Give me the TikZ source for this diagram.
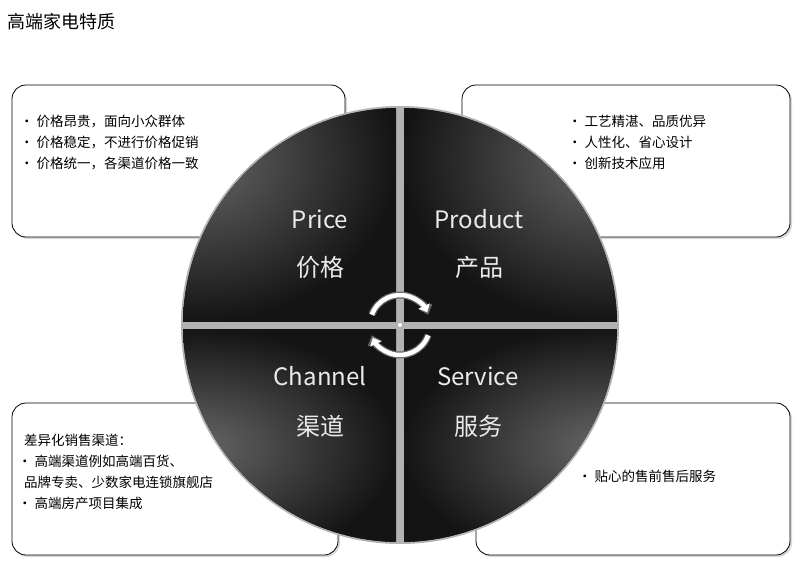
\documentclass[tikz,border=0pt]{standalone}
\usepackage{fontspec}
\setmainfont{Noto Sans CJK SC}
\usetikzlibrary{arrows.meta,shadows}
\begin{document}
\begin{tikzpicture}[x=1pt,y=-1pt,
  infobox/.style={draw=black,line width=0.8pt,rounded corners=14pt,fill=white,drop shadow={shadow xshift=2pt,shadow yshift=-2pt,opacity=0.3}},
  bl/.style={font=\fontsize{13.5}{21}\selectfont,align=left,anchor=north west,inner sep=0pt},
  big/.style={font=\fontsize{24}{27}\selectfont,text=white!92!black},
  quad/.style={inner color=black!60,outer color=black!92}]
\useasboundingbox (0,0) rectangle (800,566);
\node[anchor=west,font=\fontsize{18}{20}\selectfont] (title) at (4,22) {高端家电特质};
\draw[infobox] (12,85) rectangle (345,237);
\draw[infobox] (462,85) rectangle (790,237);
\draw[infobox] (12,403) rectangle (338,555);
\draw[infobox] (476,403) rectangle (790,555);
\node[bl] (t1) at (20,115) {• 价格昂贵，面向小众群体\\• 价格稳定，不进行价格促销\\• 价格统一，各渠道价格一致};
\node[bl] (t2) at (568,115) {• 工艺精湛、品质优异\\• 人性化、省心设计\\• 创新技术应用};
\node[bl] (t3) at (18,434) {\ \ 差异化销售渠道：\\• 高端渠道例如高端百货、\\\ \ 品牌专卖、少数家电连锁旗舰店\\• 高端房产项目集成};
\node[bl] (t4) at (578,470) {• 贴心的售前售后服务};
% circle
\fill[black!30] (400,325) circle (219);
\begin{scope}
\clip (400,325) circle (217);
\fill[quad] (0,0) rectangle (396,321);
\fill[quad] (404,0) rectangle (800,321);
\fill[quad] (0,329) rectangle (396,566);
\fill[quad] (404,329) rectangle (800,566);
\end{scope}
\fill[white] (400,325) circle (2);
\node[big] (p1) at (320,219) {Price};
\node[big] (p2) at (320,267) {价格};
\node[big] (q1) at (479,219) {Product};
\node[big] (q2) at (479,267) {产品};
\node[big] (c1) at (320,376) {Channel};
\node[big] (c2) at (320,426) {渠道};
\node[big] (s1) at (478,376) {Service};
\node[big] (s2) at (478,426) {服务};
% cycle arrows
\coordinate (ctr) at (400,325);
\draw[black!60,line width=7pt,-{Triangle[length=9pt,width=15pt]}] ([shift={(-160:30)}]ctr) arc[start angle=-160,end angle=-20,radius=30];
\draw[white,line width=4.5pt,-{Triangle[length=7pt,width=12pt]}] ([shift={(-160:30)}]ctr) arc[start angle=-160,end angle=-25,radius=30];
\draw[black!60,line width=7pt,-{Triangle[length=9pt,width=15pt]}] ([shift={(20:30)}]ctr) arc[start angle=20,end angle=160,radius=30];
\draw[white,line width=4.5pt,-{Triangle[length=7pt,width=12pt]}] ([shift={(20:30)}]ctr) arc[start angle=20,end angle=155,radius=30];
\end{tikzpicture}
\end{document}
